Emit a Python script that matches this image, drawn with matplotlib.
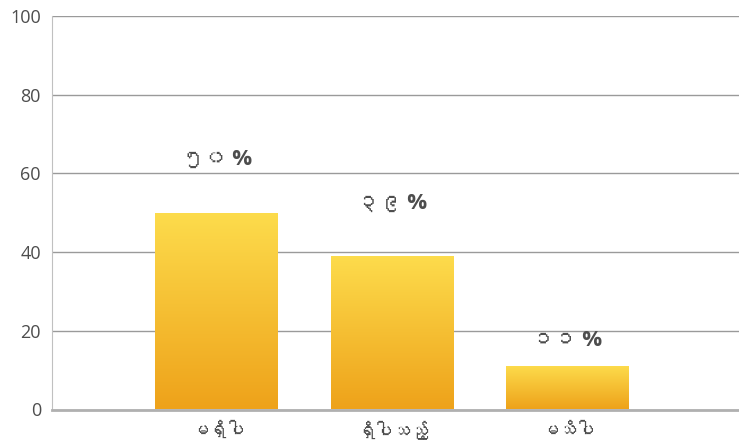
import numpy as np
import matplotlib
matplotlib.use('Agg')
import matplotlib.pyplot as plt
from matplotlib import font_manager
from matplotlib.ft2font import FT2Font
from matplotlib.colors import LinearSegmentedColormap

categories = ['မရှိပါ', 'ရှိပါသည့်', 'မသိပါ']
values = [50, 39, 11]
value_labels = ['၅၀ %', '၃၉ %', '၁၁ %']
y_ticks = [0, 20, 40, 60, 80, 100]


def find_myanmar_font():
    # look for any installed font that has Myanmar glyphs
    for f in font_manager.fontManager.ttflist:
        try:
            if 0x1019 in FT2Font(f.fname).get_charmap():
                return f.name
        except Exception:
            pass
    return None


mm_font = find_myanmar_font()
families = ['Open Sans'] + ([mm_font] if mm_font else []) + ['DejaVu Sans']
plt.rcParams['font.family'] = families

fig = plt.figure(figsize=(7.39, 4.45), dpi=100)
ax = fig.add_axes([52 / 739, 1 - 409.5 / 445, 1 - 52 / 739, 393.5 / 445])

x = np.arange(len(categories))
bars = ax.bar(x, values, width=0.7, color='none', zorder=3)

cmap = LinearSegmentedColormap.from_list('gold', ['#eea21a', '#fddc4c'])
grad = np.linspace(0, 1, 256).reshape(-1, 1)
for b in bars:
    x0, y0 = b.get_x(), b.get_y()
    im = ax.imshow(grad, cmap=cmap, origin='lower', aspect='auto',
                   extent=[x0, x0 + b.get_width(), y0, y0 + b.get_height()], zorder=3)
    im.set_clip_path(b)

# label offsets above the bars
offsets = [13.5, 13.5, 6.5]
for xi, v, lab, off in zip(x, values, value_labels, offsets):
    ax.text(xi, v + off, lab, ha='center', va='center', fontsize=16,
            fontweight='bold', color='#4d4d4d', zorder=4)

ax.set_xlim(-0.94, 2.98)
ax.set_ylim(0, 100)
ax.set_yticks(y_ticks)
ax.set_xticks(x)
ax.set_xticklabels(categories, fontsize=13, color='#4d4d4d')
ax.tick_params(axis='y', length=0, labelsize=13, labelcolor='#4d4d4d', pad=8)
ax.tick_params(axis='x', length=0, pad=9)
ax.grid(axis='y', color='#9a9a9a', linewidth=1, zorder=0)
for s in ['top', 'right']:
    ax.spines[s].set_visible(False)
ax.spines['left'].set_color('#c0c0c0')
ax.spines['bottom'].set_color('#b0b0b0')
ax.spines['bottom'].set_linewidth(2)
ax.set_axisbelow(True)

plt.savefig('out.png', dpi=100)
